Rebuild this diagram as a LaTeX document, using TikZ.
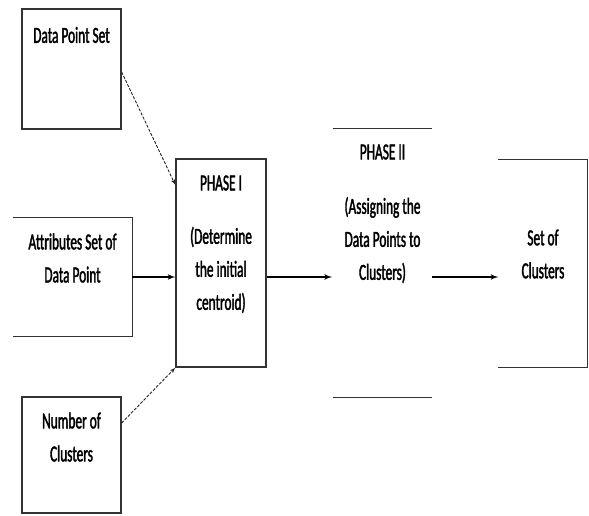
\documentclass[tikz,border=0pt]{standalone}
\usepackage{fontspec}
\newfontfamily\diagfont[FakeStretch=0.58,FakeBold=1.6]{Carlito}
\usetikzlibrary{arrows,positioning}

\begin{document}
\begin{tikzpicture}[x=1pt,y=-1pt,>=latex',
        box/.style={draw=black!80,line width=1.3pt,inner sep=0pt},
        open box/.style={inner sep=0pt},
        txt/.style={font=\diagfont\fontsize{23}{33}\selectfont,align=center,inner sep=0pt},
        flow/.style={->,line width=1.6pt},
        feed/.style={->,line width=0.9pt,dashed,dash pattern=on 3pt off 1.5pt,black!85}]
    \useasboundingbox (0,0) rectangle (589,516);
    % input boxes
    \node[box,minimum width=99pt,minimum height=120pt] (dps) at (71.5,69) {};
    \node[open box,minimum width=119pt,minimum height=118pt] (att) at (72.5,277) {};
    \node[box,minimum width=99pt,minimum height=116pt] (noc) at (71.5,455) {};
    % phases and result
    \node[box,minimum width=90pt,minimum height=208pt] (p1) at (221,263) {};
    \node[open box,minimum width=99pt,minimum height=268pt] (p2) at (382.5,263) {};
    \node[open box,minimum width=89pt,minimum height=207pt] (soc) at (543,263.5) {};
    \draw[draw=black!80,line width=1.3pt] (att.north west) -- (att.north east)
        -- (att.south east) -- (att.south west);
    \draw[draw=black!80,line width=1.3pt] (p2.north west) -- (p2.north east);
    \draw[draw=black!80,line width=1.3pt] (p2.south west) -- (p2.south east);
    \draw[draw=black!80,line width=1.3pt] (soc.north west) -- (soc.north east)
        -- (soc.south east) -- (soc.south west);
    % texts
    \node[txt] (dpst) at (71.5,35) {Data Point Set};
    \node[txt] (attt) at (72.5,258) {Attributes Set of\\Data Point};
    \node[txt] (noct) at (71.5,437) {Number of\\Clusters};
    \node[txt] (p1h) at (221,183) {PHASE I};
    \node[txt] (p1t) at (221,270) {(Determine\\the initial\\centroid)};
    \node[txt] (p2h) at (382.5,152) {PHASE II};
    \node[txt] (p2t) at (382.5,240) {(Assigning the\\Data Points to\\Clusters)};
    \node[txt] (soct) at (543,254) {Set of\\Clusters};
    % connectors
    \coordinate (p2in) at (332,277);
    \coordinate (p2out) at (432,277);
    \draw[feed] (dps.east |- 0,72) -- (p1.west |- 0,185);
    \draw[flow] (att.east) -- (p1.west |- att.east);
    \draw[feed] (noc.east |- 0,423) -- (p1.south west);
    \draw[flow] (p1.east |- p2in) -- (p2in);
    \draw[flow] (p2out) -- (soc.west |- p2out);
\end{tikzpicture}
\end{document}
